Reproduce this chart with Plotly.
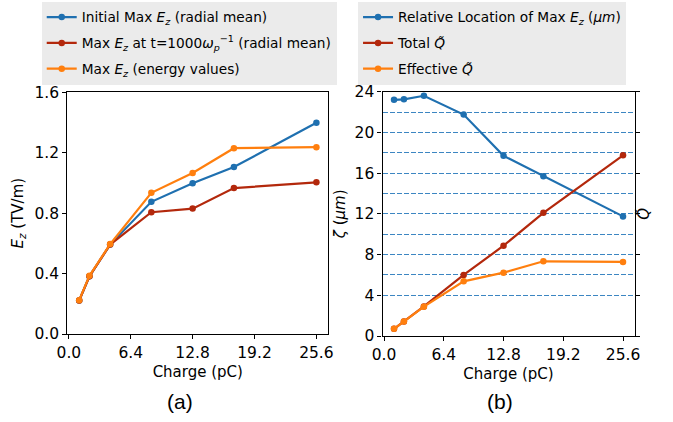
import plotly.graph_objects as go

# ---------------- data ----------------
charge = [1.07, 2.13, 4.27, 8.53, 12.8, 17.07, 25.6]
ez_initial = [0.222, 0.382, 0.592, 0.875, 0.998, 1.105, 1.398]
ez_t1000 = [0.222, 0.382, 0.592, 0.806, 0.830, 0.966, 1.004]
ez_energy = [0.224, 0.385, 0.595, 0.935, 1.066, 1.230, 1.237]

zeta_loc = [23.2, 23.25, 23.6, 21.75, 17.7, 15.7, 11.75]
q_total = [0.70, 1.42, 2.90, 6.00, 8.87, 12.10, 17.75]
q_effective = [0.70, 1.42, 2.88, 5.37, 6.22, 7.34, 7.28]

x_tickvals = [0, 6.4, 12.8, 19.2, 25.6]
x_ticktext = ["0.0", "6.4", "12.8", "19.2", "25.6"]
left_yticks = [0.0, 0.4, 0.8, 1.2, 1.6]
left_yticktext = ["0.0", "0.4", "0.8", "1.2", "1.6"]
right_yticks = [0, 4, 8, 12, 16, 20, 24]
grid_minor = [6, 10, 14, 18, 22]

BLUE = "#1f70b0"
RED = "#b3280c"
ORANGE = "#ff7f0e"
FONT = "DejaVu Sans"

fig = go.Figure()

mk = dict(size=6.5)
lw = 2.2

fig.add_trace(go.Scatter(x=charge, y=ez_initial, mode="lines+markers",
                         line=dict(color=BLUE, width=lw), marker=dict(color=BLUE, **mk),
                         name="Initial Max <i>E<sub>z</sub></i> (radial mean)",
                         legendgroup="a1", xaxis="x", yaxis="y", legend="legend"))
fig.add_trace(go.Scatter(x=charge, y=ez_t1000, mode="lines+markers",
                         line=dict(color=RED, width=lw), marker=dict(color=RED, **mk),
                         name="Max <i>E<sub>z</sub></i> at t=1000<i>ω<sub>p</sub></i><sup>−1</sup> (radial mean)",
                         legendgroup="a2", xaxis="x", yaxis="y", legend="legend"))
fig.add_trace(go.Scatter(x=charge, y=ez_energy, mode="lines+markers",
                         line=dict(color=ORANGE, width=lw), marker=dict(color=ORANGE, **mk),
                         name="Max <i>E<sub>z</sub></i> (energy values)",
                         legendgroup="a3", xaxis="x", yaxis="y", legend="legend"))

fig.add_trace(go.Scatter(x=charge, y=zeta_loc, mode="lines+markers",
                         line=dict(color=BLUE, width=lw), marker=dict(color=BLUE, **mk),
                         name="Relative Location of Max <i>E<sub>z</sub></i> (<i>μm</i>)",
                         legendgroup="b1", xaxis="x2", yaxis="y2", legend="legend2"))
fig.add_trace(go.Scatter(x=charge, y=q_total, mode="lines+markers",
                         line=dict(color=RED, width=lw), marker=dict(color=RED, **mk),
                         name="Total <i>Q̃</i>",
                         legendgroup="b2", xaxis="x2", yaxis="y3", legend="legend2"))
fig.add_trace(go.Scatter(x=charge, y=q_effective, mode="lines+markers",
                         line=dict(color=ORANGE, width=lw), marker=dict(color=ORANGE, **mk),
                         name="Effective <i>Q̃</i>",
                         legendgroup="b3", xaxis="x2", yaxis="y3", legend="legend2"))

tickfont = dict(family=FONT, size=15.5, color="black")
titlefont = dict(family=FONT, size=15, color="black")

xcommon = dict(range=[-0.16, 26.83], tickmode="array", tickvals=x_tickvals, ticktext=x_ticktext,
               ticks="outside", ticklen=4, tickwidth=1, tickcolor="black",
               showline=True, linecolor="black", linewidth=1.2, mirror=True,
               showgrid=False, zeroline=False, tickfont=tickfont, automargin=False,
               title=dict(text="Charge (pC)", font=titlefont, standoff=5))

GRID = "#3c86c2"

fig.update_layout(
    width=673, height=422,
    margin=dict(l=0, r=0, t=0, b=0),
    paper_bgcolor="white", plot_bgcolor="white",
    showlegend=True,
    xaxis=dict(domain=[0.1000, 0.4878], anchor="y", **xcommon),
    yaxis=dict(domain=[0.2085, 0.7813], anchor="x", range=[0, 1.6],
               tickmode="array", tickvals=left_yticks, ticktext=left_yticktext,
               ticks="outside", ticklen=4, tickwidth=1, tickcolor="black",
               showline=True, linecolor="black", linewidth=1.2, mirror=True,
               showgrid=False, zeroline=False, tickfont=tickfont, automargin=False,
               title=dict(text="<i>E<sub>z</sub></i> (TV/m)", font=titlefont, standoff=7)),
    xaxis2=dict(domain=[0.5684, 0.9428], anchor="y2", **xcommon),
    yaxis2=dict(domain=[0.2038, 0.7827], anchor="x2", range=[0, 24],
                tickmode="array", tickvals=right_yticks,
                ticks="outside", ticklen=4, tickwidth=1, tickcolor="black",
                showline=True, linecolor="black", linewidth=1.2, mirror="ticks",
                showgrid=True, gridcolor=GRID, griddash="5px,2px", gridwidth=1,
                minor=dict(tickmode="array", tickvals=grid_minor, showgrid=True,
                           gridcolor=GRID, griddash="5px,2px", gridwidth=1, ticks=""),
                zeroline=False, tickfont=tickfont, automargin=False,
                title=dict(text="<i>ζ</i> (<i>μm</i>)", font=titlefont, standoff=5)),
    yaxis3=dict(overlaying="y2", side="right", anchor="x2", range=[0, 24],
                showticklabels=False, ticks="", showline=False, showgrid=False,
                zeroline=False, automargin=False,
                title=dict(text="<i>Q̃</i>", font=titlefont, standoff=4)),
    legend=dict(x=0.062, y=0.996, xanchor="left", yanchor="top",
                bgcolor="#ebebeb", borderwidth=0, tracegroupgap=5,
                font=dict(family=FONT, size=13.7, color="black")),
    legend2=dict(x=0.532, y=0.996, xanchor="left", yanchor="top",
                 bgcolor="#ebebeb", borderwidth=0, tracegroupgap=5,
                 font=dict(family=FONT, size=13.7, color="black")),
    annotations=[
        dict(text="(a)", x=180 / 673, y=1 - 401.7 / 422, xref="paper", yref="paper",
             showarrow=False, xanchor="center", yanchor="middle",
             font=dict(family="Liberation Sans", size=21, color="black")),
        dict(text="(b)", x=500 / 673, y=1 - 401.7 / 422, xref="paper", yref="paper",
             showarrow=False, xanchor="center", yanchor="middle",
             font=dict(family="Liberation Sans", size=21, color="black")),
    ],
)

fig.write_html("out.html")
